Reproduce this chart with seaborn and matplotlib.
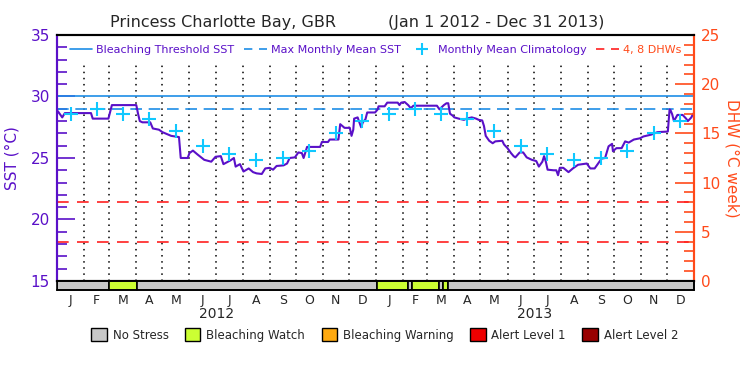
import numpy as np
import pandas as pd
import matplotlib
matplotlib.use('Agg')
import matplotlib.pyplot as plt
import seaborn as sns
from matplotlib.lines import Line2D
from matplotlib.patches import Patch
from matplotlib.ticker import MultipleLocator

# SST: days since Jan 1 2012 and value (deg C)
sst_day = [0, 1, 3, 6, 9, 39, 41, 59, 63, 91, 93, 95, 98, 107, 110, 117, 121, 131, 140, 142,
           150, 152, 156, 161, 169, 177, 182, 188, 191, 199, 203, 205, 210, 214, 220, 225, 229,
           235, 239, 244, 248, 252, 260, 264, 267, 273, 277, 281, 283, 287, 302, 304, 311, 313,
           323, 325, 330, 336, 338, 340, 341, 345, 347, 349, 351, 354, 356, 365, 368, 369, 376,
           379, 391, 393, 395, 399, 403, 406, 409, 436, 439, 441, 444, 447, 449, 451, 454, 456,
           461, 467, 470, 476, 481, 484, 488, 490, 492, 496, 500, 503, 511, 513, 517, 521, 524,
           526, 531, 535, 539, 545, 550, 553, 557, 559, 561, 563, 570, 573, 575, 577, 581, 587,
           592, 598, 608, 612, 617, 621, 625, 629, 633, 637, 638, 642, 648, 652, 656, 662, 669,
           673, 682, 689, 701, 703, 704, 706, 708, 712, 718, 722, 724, 728, 730]
sst_val = [28.6, 28.8, 28.6, 28.3, 28.65, 28.65, 28.2, 28.2, 29.3, 29.3, 28.6, 28.0, 27.9, 27.9,
           27.4, 27.3, 27.1, 26.8, 26.7, 25.0, 25.0, 25.4, 25.6, 25.3, 24.85, 24.7, 25.1, 25.15,
           24.5, 24.8, 25.0, 24.3, 24.5, 23.9, 24.15, 23.85, 23.75, 23.7, 24.15, 24.2, 24.05,
           24.35, 24.4, 24.55, 25.0, 25.05, 25.45, 25.4, 25.0, 25.9, 25.9, 26.3, 26.3, 26.5, 26.5,
           27.75, 27.45, 27.45, 26.8, 27.3, 28.2, 28.3, 27.9, 27.5, 27.9, 28.15, 28.7, 28.7,
           28.95, 29.2, 29.2, 29.5, 29.5, 29.3, 29.5, 29.55, 29.3, 29.05, 29.25, 29.25, 28.95,
           29.1, 29.3, 29.45, 29.45, 28.6, 28.45, 28.3, 28.2, 28.1, 28.2, 28.3, 28.2, 28.1, 28.05,
           27.6, 26.8, 26.4, 26.2, 26.35, 26.4, 26.1, 25.8, 25.4, 25.15, 25.05, 25.45, 25.45,
           25.05, 24.85, 24.75, 24.3, 24.7, 25.15, 24.7, 24.05, 24.0, 24.0, 23.6, 24.2, 24.2,
           23.85, 24.15, 24.45, 24.55, 24.15, 24.15, 24.55, 24.95, 25.0, 25.95, 26.15, 25.55,
           25.8, 25.8, 26.35, 26.25, 26.5, 26.6, 26.75, 26.9, 27.1, 27.15, 28.95, 28.9, 28.55,
           28.0, 28.5, 28.5, 28.2, 28.0, 28.3, 28.6]

month_letters = ['J', 'F', 'M', 'A', 'M', 'J', 'J', 'A', 'S', 'O', 'N', 'D']
clim_sst = [28.6, 29.0, 28.6, 28.2, 27.2, 26.0, 25.3, 24.8, 25.0, 25.6, 27.0, 28.0]
years = ['2012', '2013']

mmm = 29.0
threshold = 30.0
dhw_levels = [4, 8]

# stress bar segments (days since Jan 1 2012)
stress_start = [0, 60, 92, 367, 403, 407, 438, 443, 449]
stress_end = [60, 92, 367, 403, 407, 438, 443, 449, 731]
stress_level = [0, 1, 0, 1, 0, 1, 0, 1, 0]
stress_names = ['No Stress', 'Bleaching Watch', 'Bleaching Warning', 'Alert Level 1', 'Alert Level 2']
stress_colors = ['#c8c8c8', '#ccff33', '#ffaa11', '#ee0000', '#990000']

purple = '#5a10c8'
orange = '#ff4a1a'
blue = '#1e8ee6'
cyan = '#10c8ff'
red = '#ff2020'

sns.set_style('white')
plt.rcParams['font.family'] = ['DejaVu Sans']

t0 = pd.Timestamp('2012-01-01')
month_starts = pd.date_range('2012-01-01', '2014-01-01', freq='MS')
start_day = np.array((month_starts - t0).days)
mid_day = (start_day[:-1] + start_day[1:]) / 2.0
n_days = start_day[-1]

sst = pd.DataFrame({'day': sst_day, 'sst': sst_val})
clim = pd.DataFrame({'day': mid_day, 'sst': clim_sst * 2})

fig = plt.figure(figsize=(7.5, 3.75), dpi=100)
ax = fig.add_axes([0.076, 0.2507, 0.8493, 0.656])
axr = ax.twinx()
axb = fig.add_axes([0.076, 0.2267, 0.8493, 0.024])

# month separators
ax.vlines(start_day[1:-1], 15, 32.6, colors='black', linestyles=(0, (1, 3)), linewidth=1.1)
ax.axhline(threshold, color=blue, lw=1.2)
ax.axhline(mmm, color=blue, lw=1.2, dashes=(7, 4))
sns.lineplot(data=sst, x='day', y='sst', ax=ax, color=purple, lw=1.5, sort=False, estimator=None)
sns.scatterplot(data=clim, x='day', y='sst', ax=ax, marker='+', s=110, color=cyan, linewidth=1.5, zorder=5)

ax.set_xlim(0, n_days)
ax.set_ylim(15, 35)
ax.set_xticks([])
ax.set_xlabel('')
ax.set_ylabel('SST (°C)', color=purple, fontsize=11, labelpad=8)
ax.yaxis.set_major_locator(MultipleLocator(5))
ax.yaxis.set_minor_locator(MultipleLocator(1))
ax.tick_params(axis='y', which='major', direction='in', length=13, width=1.2, colors=purple,
               labelsize=11, pad=5, left=True)
ax.tick_params(axis='y', which='minor', direction='in', length=7, width=1.2, colors=purple, left=True)

for d in dhw_levels:
    axr.axhline(d, color=red, lw=1.2, dashes=(7, 5))
axr.set_ylim(0, 25)
axr.yaxis.set_major_locator(MultipleLocator(5))
axr.yaxis.set_minor_locator(MultipleLocator(1))
axr.tick_params(axis='y', which='major', direction='in', length=14, width=1.2, colors=orange,
                labelsize=11, pad=5, right=True)
axr.tick_params(axis='y', which='minor', direction='in', length=7, width=1.2, colors=orange, right=True)
axr.set_ylabel('DHW (°C week)', color=orange, fontsize=11, rotation=270, labelpad=14)

for a in (ax, axr):
    a.spines['left'].set_color(purple)
    a.spines['right'].set_color(orange)
    a.spines['top'].set_color('black')
    a.spines['bottom'].set_color('black')
    for s in a.spines.values():
        s.set_linewidth(1.5)

# stress bar
for s0, s1, lv in zip(stress_start, stress_end, stress_level):
    axb.broken_barh([(s0, s1 - s0)], (0, 1), facecolors=stress_colors[lv], edgecolors='black', linewidth=1.2)
axb.set_xlim(0, n_days)
axb.set_ylim(0, 1)
axb.set_yticks([])
axb.set_xticks(mid_day)
axb.set_xticklabels(month_letters * 2, fontsize=9)
axb.tick_params(axis='x', length=0, pad=3)
for s in axb.spines.values():
    s.set_color('black')
    s.set_linewidth(1.2)
for i, y in enumerate(years):
    axb.text((start_day[12 * i] + start_day[12 * i + 12]) / 2, -2.7, y, transform=axb.get_xaxis_transform(),
             ha='center', va='center', fontsize=10)

# top legend
handles = [Line2D([], [], color=blue, lw=1.2),
           Line2D([], [], color=blue, lw=1.2, dashes=(5, 4)),
           Line2D([], [], color=cyan, marker='+', ls='none', ms=9, mew=1.5),
           Line2D([], [], color=red, lw=1.2, dashes=(5, 4))]
labels = ['Bleaching Threshold SST', 'Max Monthly Mean SST', 'Monthly Mean Climatology', '4, 8 DHWs']
leg = axr.legend(handles, labels, loc='upper center', bbox_to_anchor=(0.5, 1.0), ncol=4, frameon=False,
                 fontsize=8, handlelength=2.0, handletextpad=0.4, columnspacing=0.9)
for txt, c in zip(leg.get_texts(), [purple, purple, purple, orange]):
    txt.set_color(c)

# bottom legend
patches = [Patch(facecolor=c, edgecolor='black', linewidth=1) for c in stress_colors]
fig.legend(patches, stress_names, loc='center', bbox_to_anchor=(0.513, 0.107), ncol=5, frameon=False,
           fontsize=8.5, handlelength=1.3, handleheight=1.3, handletextpad=0.5, columnspacing=1.4)

fig.text(110 / 750, 1 - 22 / 375, 'Princess Charlotte Bay, GBR', ha='left', va='center', fontsize=11.5)
fig.text(388 / 750, 1 - 22 / 375, '(Jan 1 2012 - Dec 31 2013)', ha='left', va='center', fontsize=11.5)

fig.savefig('out.png', dpi=100)
